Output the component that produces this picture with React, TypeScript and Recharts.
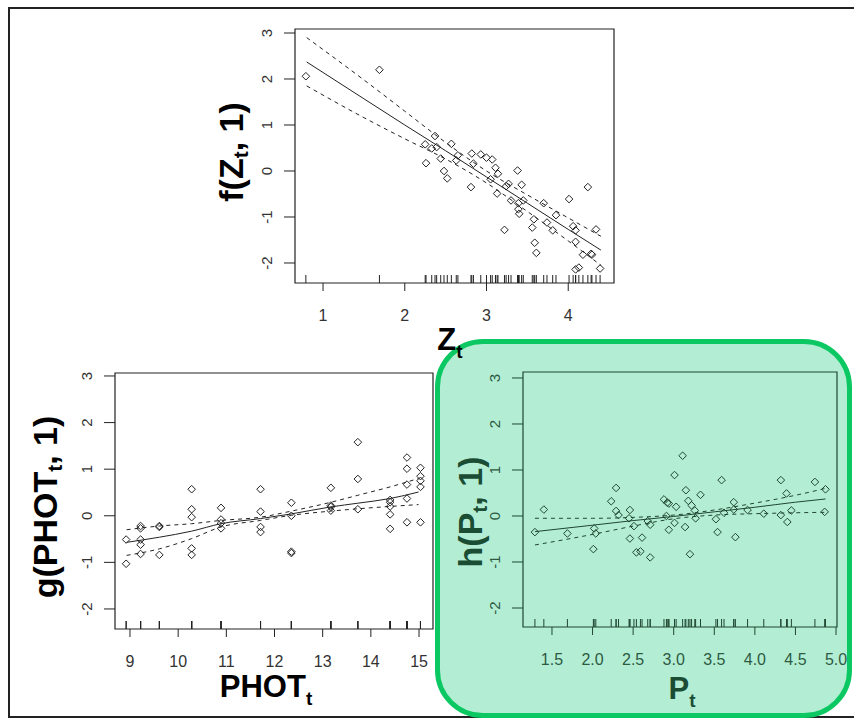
import { ComposedChart, Scatter, Line, XAxis, YAxis, ReferenceArea } from "recharts";

// ---- f(Z_t, 1) ----
const zX = [0.79, 1.69, 2.25, 2.37, 2.33, 2.39, 2.26, 2.44, 2.48, 2.52, 2.57, 2.65, 2.63, 2.82, 2.84, 2.81, 2.93, 3.0, 3.07, 3.11, 3.14, 3.05, 3.27, 3.24, 3.13, 3.3, 3.22, 3.38, 3.43, 3.39, 3.45, 3.4, 3.39, 3.58, 3.56, 3.59, 3.61, 3.7, 3.74, 3.85, 3.81, 4.01, 4.24, 4.06, 4.09, 4.09, 4.18, 4.28, 4.29, 4.34, 4.09, 4.13, 4.39];
const zY = [2.06, 2.2, 0.58, 0.76, 0.49, 0.52, 0.17, 0.27, 0.0, -0.16, 0.59, 0.34, 0.23, 0.38, 0.16, -0.35, 0.36, 0.29, 0.25, 0.07, -0.06, -0.18, -0.28, -0.33, -0.49, -0.64, -1.28, 0.01, -0.3, -0.7, -0.64, -0.93, -0.83, -1.05, -1.23, -1.56, -1.78, -0.7, -1.12, -0.96, -1.29, -0.61, -0.35, -1.2, -1.29, -1.54, -1.82, -1.8, -1.82, -1.27, -2.14, -2.1, -2.12];
const zFitX = [0.8, 1.5, 2.0, 2.5, 3.0, 3.5, 4.0, 4.4];
const zFit = [2.37, 1.57, 1.0, 0.44, -0.13, -0.7, -1.27, -1.72];
const zUpper = [2.9, 1.98, 1.3, 0.62, 0.0, -0.52, -1.02, -1.42];
const zLower = [1.85, 1.16, 0.7, 0.26, -0.26, -0.88, -1.52, -2.05];
const zTicksX = [1, 2, 3, 4];

// ---- g(PHOT_t, 1) ----
const gX = [8.92, 8.92, 9.22, 9.22, 9.22, 9.22, 9.22, 9.61, 9.61, 9.61, 10.28, 10.28, 10.28, 10.28, 10.28, 10.89, 10.89, 10.89, 10.89, 11.71, 11.71, 11.71, 11.71, 12.35, 12.35, 12.35, 12.35, 13.17, 13.17, 13.17, 13.17, 13.73, 13.73, 13.73, 14.4, 14.4, 14.4, 14.4, 14.4, 14.75, 14.75, 14.75, 14.75, 14.75, 15.03, 15.03, 15.03, 15.03, 15.03];
const gY = [-0.51, -1.03, -0.22, -0.27, -0.51, -0.62, -0.82, -0.22, -0.24, -0.84, 0.57, 0.14, -0.03, -0.7, -0.84, 0.17, -0.08, -0.27, -0.16, 0.57, 0.09, -0.24, -0.35, 0.28, 0.0, -0.77, -0.8, 0.6, 0.22, 0.19, 0.11, 1.58, 0.79, 0.14, 0.34, 0.29, 0.2, 0.03, -0.28, 1.25, 1.01, 0.67, 0.37, -0.14, 1.03, 0.85, 0.75, 0.62, -0.14];
const gFitX = [8.93, 9.61, 10.28, 10.89, 11.71, 12.35, 13.17, 13.73, 14.4, 14.99];
const gFit = [-0.57, -0.46, -0.33, -0.17, -0.06, 0.04, 0.19, 0.27, 0.37, 0.51];
const gUpper = [-0.3, -0.22, -0.17, -0.1, -0.03, 0.1, 0.29, 0.44, 0.62, 0.8];
const gLower = [-0.85, -0.71, -0.49, -0.24, -0.1, 0.01, 0.1, 0.15, 0.2, 0.24];
const gTicksX = [9, 10, 11, 12, 13, 14, 15];

// ---- h(P_t, 1) ----
const hX = [1.29, 1.4, 1.69, 2.01, 2.02, 2.04, 2.23, 2.29, 2.29, 2.32, 2.46, 2.45, 2.46, 2.51, 2.54, 2.59, 2.61, 2.71, 2.71, 2.68, 2.88, 2.92, 2.94, 2.91, 2.94, 3.01, 3.03, 3.01, 3.11, 3.15, 3.18, 3.22, 3.14, 3.2, 3.26, 3.27, 3.33, 3.52, 3.54, 3.59, 3.62, 3.74, 3.74, 3.76, 3.91, 4.11, 4.32, 4.32, 4.39, 4.4, 4.45, 4.74, 4.86, 4.87];
const hY = [-0.35, 0.14, -0.38, -0.72, -0.27, -0.38, 0.32, 0.61, 0.11, 0.02, 0.13, -0.05, -0.49, -0.22, -0.79, -0.77, -0.47, -0.9, -0.19, -0.11, 0.36, 0.29, 0.27, 0.0, -0.3, 0.89, 0.2, -0.15, 1.31, 0.56, 0.33, 0.23, -0.24, -0.83, 0.12, -0.05, 0.46, -0.07, -0.35, 0.78, 0.07, 0.3, 0.14, -0.46, 0.13, 0.05, 0.78, 0.02, 0.49, -0.13, 0.12, 0.74, 0.09, 0.58];
const hFitX = [1.29, 2.0, 2.5, 3.0, 3.5, 4.0, 4.5, 4.87];
const hFit = [-0.34, -0.2, -0.1, -0.01, 0.09, 0.19, 0.3, 0.37];
const hUpper = [-0.05, -0.05, -0.03, 0.02, 0.13, 0.28, 0.45, 0.6];
const hLower = [-0.63, -0.4, -0.22, -0.06, 0.02, 0.05, 0.07, 0.08];
const hTicksX = [1.5, 2.0, 2.5, 3.0, 3.5, 4.0, 4.5, 5.0];

const yTicks = [-2, -1, 0, 1, 2, 3];

const FONT = "'Liberation Sans', Arial, sans-serif";

const toPts = (xs: number[], ys: number[]) => xs.map((x, i) => ({ x, y: ys[i] }));

interface PanelProps {
  box: { left: number; top: number; right: number; bottom: number };
  xDomain: [number, number];
  yDomain: [number, number];
  xTicks: number[];
  xFmt: (v: number) => string;
  xs: number[];
  ys: number[];
  fitX: number[];
  fit: number[];
  upper: number[];
  lower: number[];
  ink: string;
  labelInk: string;
}

function Panel(p: PanelProps) {
  const w = p.box.right - p.box.left;
  const h = p.box.bottom - p.box.top;
  const points = toPts(p.xs, p.ys);
  const rug = p.xs.map((x) => ({ x, y: p.yDomain[0] }));

  const diamond = (props: any) => {
    const { cx, cy } = props;
    if (cx == null || cy == null) return <g />;
    return (
      <path
        d={`M${cx},${cy - 3.8}L${cx + 3.8},${cy}L${cx},${cy + 3.8}L${cx - 3.8},${cy}Z`}
        fill="none"
        stroke={p.ink}
        strokeWidth={1}
      />
    );
  };
  const rugTick = (props: any) => {
    const { cx, cy } = props;
    if (cx == null || cy == null) return <g />;
    return <line x1={cx} x2={cx} y1={cy} y2={cy - 8} stroke={p.ink} strokeWidth={1} />;
  };

  const xTick = (props: any) => (
    <text
      x={props.x}
      y={props.y + 24}
      textAnchor="middle"
      dominantBaseline="central"
      fontSize={16}
      fontFamily={FONT}
      fill={p.labelInk}
    >
      {p.xFmt(props.payload.value)}
    </text>
  );
  const yTick = (props: any) => (
    <text
      transform={`translate(${props.x - 18},${props.y}) rotate(-90)`}
      textAnchor="middle"
      dominantBaseline="central"
      fontSize={15}
      fontFamily={FONT}
      fill={p.labelInk}
    >
      {props.payload.value}
    </text>
  );

  return (
    <div style={{ position: "absolute", left: p.box.left - 60, top: p.box.top - 10 }}>
      <ComposedChart
        width={w + 70}
        height={h + 70}
        margin={{ top: 10, right: 10, left: 0, bottom: 0 }}
      >
        <XAxis
          type="number"
          dataKey="x"
          domain={p.xDomain}
          allowDataOverflow
          ticks={p.xTicks}
          interval={0}
          height={60}
          tickSize={8}
          tickMargin={0}
          axisLine={false}
          stroke={p.ink}
          tick={xTick}
        />
        <YAxis
          type="number"
          dataKey="y"
          domain={p.yDomain}
          allowDataOverflow
          ticks={yTicks}
          interval={0}
          width={60}
          tickSize={11}
          tickMargin={0}
          axisLine={false}
          stroke={p.ink}
          tick={yTick}
        />
        <ReferenceArea
          x1={p.xDomain[0]}
          x2={p.xDomain[1]}
          y1={p.yDomain[0]}
          y2={p.yDomain[1]}
          fill="none"
          stroke={p.ink}
          strokeWidth={1.2}
          ifOverflow="visible"
        />
        <Scatter data={rug} shape={rugTick} isAnimationActive={false} />
        <Scatter data={points} shape={diamond} isAnimationActive={false} />
        <Line data={toPts(p.fitX, p.fit)} dataKey="y" type="monotone" stroke={p.ink} strokeWidth={1} dot={false} isAnimationActive={false} />
        <Line data={toPts(p.fitX, p.upper)} dataKey="y" type="monotone" stroke={p.ink} strokeWidth={1} strokeDasharray="4 4" dot={false} isAnimationActive={false} />
        <Line data={toPts(p.fitX, p.lower)} dataKey="y" type="monotone" stroke={p.ink} strokeWidth={1} strokeDasharray="4 4" dot={false} isAnimationActive={false} />
      </ComposedChart>
    </div>
  );
}

export default function App() {
  const titleStyle = { fontFamily: FONT, fontWeight: 700, fontSize: 31 };
  const yTitleStyle = { fontFamily: FONT, fontWeight: 700, fontSize: 34 };
  return (
    <div style={{ position: "absolute", left: 0, top: 0, width: 854, height: 719, background: "#fff", overflow: "hidden" }}>
      {/* outer frame */}
      <div style={{ position: "absolute", left: 8, top: 7, width: 900, height: 711, border: "2px solid #222", boxSizing: "border-box" }} />
      {/* highlight for h(P_t, 1) */}
      <div style={{ position: "absolute", left: 435, top: 339, width: 417, height: 379, border: "5px solid #0cc862", borderRadius: 48, background: "#b3eed4", boxSizing: "border-box" }} />

      <Panel
        box={{ left: 295, top: 29, right: 614, bottom: 283 }}
        xDomain={[0.657, 4.56]}
        yDomain={[-2.435, 3.087]}
        xTicks={zTicksX}
        xFmt={(v) => String(v)}
        xs={zX}
        ys={zY}
        fitX={zFitX}
        fit={zFit}
        upper={zUpper}
        lower={zLower}
        ink="#222"
        labelInk="#333"
      />
      <Panel
        box={{ left: 115, top: 373, right: 433, bottom: 629 }}
        xDomain={[8.689, 15.29]}
        yDomain={[-2.43, 3.064]}
        xTicks={gTicksX}
        xFmt={(v) => String(v)}
        xs={gX}
        ys={gY}
        fitX={gFitX}
        fit={gFit}
        upper={gUpper}
        lower={gLower}
        ink="#222"
        labelInk="#333"
      />
      <Panel
        box={{ left: 523, top: 372, right: 837, bottom: 627 }}
        xDomain={[1.143, 5.012]}
        yDomain={[-2.413, 3.13]}
        xTicks={hTicksX}
        xFmt={(v) => v.toFixed(1)}
        xs={hX}
        ys={hY}
        fitX={hFitX}
        fit={hFit}
        upper={hUpper}
        lower={hLower}
        ink="#1f4630"
        labelInk="#2e5a42"
      />

      <svg width={854} height={719} style={{ position: "absolute", left: 0, top: 0, pointerEvents: "none" }}>
        <text transform="translate(231,152) rotate(-90)" textAnchor="middle" dominantBaseline="central" fill="#000" style={yTitleStyle}>
          f(Z<tspan fontSize={21} dy={9}>t</tspan><tspan dy={-9}>, 1)</tspan>
        </text>
        <text x={450} y={350} textAnchor="middle" fill="#000" style={titleStyle}>
          Z<tspan fontSize={19} dy={8}>t</tspan>
        </text>
        <text transform="translate(45,507) rotate(-90)" textAnchor="middle" dominantBaseline="central" fill="#000" style={yTitleStyle}>
          g(PHOT<tspan fontSize={21} dy={9}>t</tspan><tspan dy={-9}>, 1)</tspan>
        </text>
        <text x={266} y={697} textAnchor="middle" fill="#000" style={titleStyle}>
          PHOT<tspan fontSize={19} dy={8}>t</tspan>
        </text>
        <text transform="translate(470,512) rotate(-90)" textAnchor="middle" dominantBaseline="central" fill="#1a4d33" style={yTitleStyle}>
          h(P<tspan fontSize={21} dy={9}>t</tspan><tspan dy={-9}>, 1)</tspan>
        </text>
        <text x={682} y={699} textAnchor="middle" fill="#1a4d33" style={titleStyle}>
          P<tspan fontSize={19} dy={8}>t</tspan>
        </text>
      </svg>
    </div>
  );
}
